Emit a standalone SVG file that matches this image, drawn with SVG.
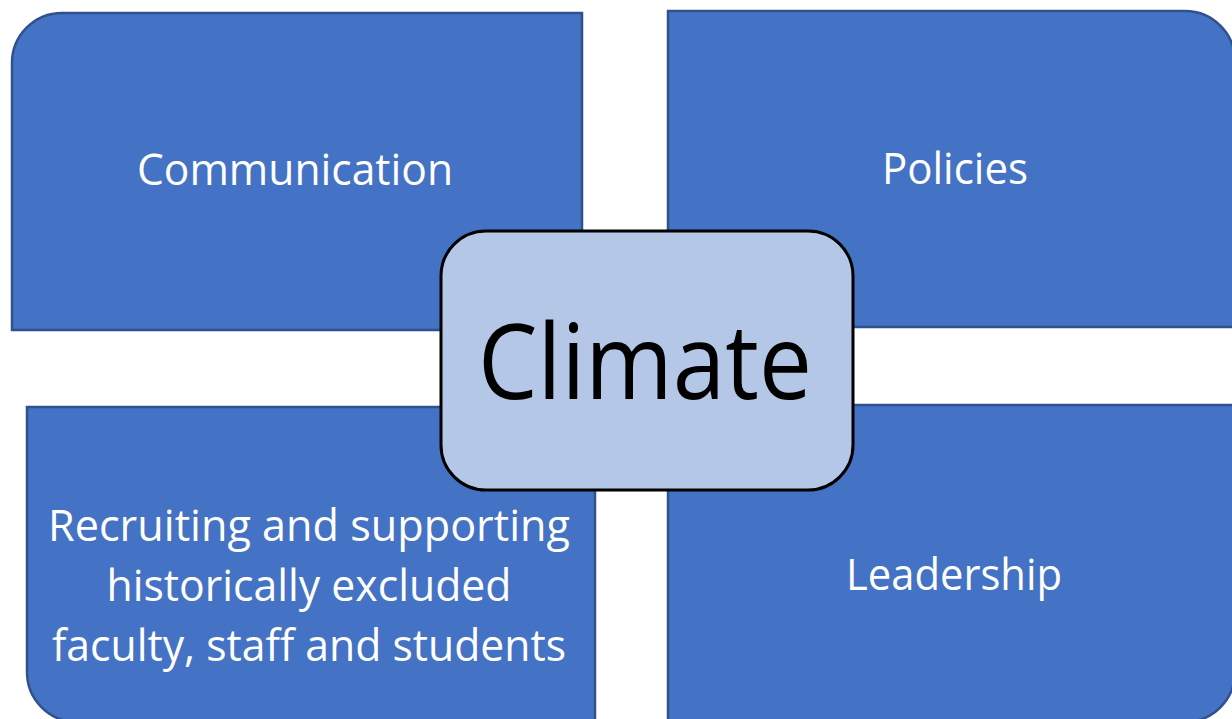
<svg xmlns="http://www.w3.org/2000/svg" width="1232" height="719" viewBox="0 0 1232 719">
<style>
.box{fill:#4472C4;stroke:#2F528F;stroke-width:2.5}
.lbl{fill:#FFFFFF;font-family:"Open Sans","Noto Sans","Liberation Sans",sans-serif;font-size:43px;text-anchor:middle}
.ctr{fill:#B4C7E7;stroke:#000000;stroke-width:3}
.ctxt{fill:#000000;font-family:"Open Sans","Noto Sans","Liberation Sans",sans-serif;font-size:104px;text-anchor:middle}
</style>
<rect width="1232" height="719" fill="#FFFFFF"/>
<g id="communication">
<path class="box" d="M12,330 L12,63 A50,50 0 0 1 62,13 L582,13 L582,330 Z"/>
<text class="lbl" x="295" y="185" textLength="316" lengthAdjust="spacingAndGlyphs">Communication</text>
</g>
<g id="policies">
<path class="box" d="M668,327 L668,11 L1185,11 A50,50 0 0 1 1235,61 L1235,327 Z"/>
<text class="lbl" x="955" y="184" textLength="146" lengthAdjust="spacingAndGlyphs">Policies</text>
</g>
<g id="recruiting">
<path class="box" d="M27,407 L595,407 L595,722 L77,722 A50,50 0 0 1 27,672 Z"/>
<text class="lbl" x="309" y="541" textLength="522" lengthAdjust="spacingAndGlyphs">Recruiting and supporting</text>
<text class="lbl" x="309" y="601" textLength="405" lengthAdjust="spacingAndGlyphs">historically excluded</text>
<text class="lbl" x="309" y="661" textLength="514" lengthAdjust="spacingAndGlyphs">faculty, staff and students</text>
</g>
<g id="leadership">
<path class="box" d="M668,405 L1235,405 L1235,672 A50,50 0 0 1 1185,722 L668,722 Z"/>
<text class="lbl" x="954" y="590" textLength="216" lengthAdjust="spacingAndGlyphs">Leadership</text>
</g>
<g id="connectors"></g>
<g id="climate">
<rect class="ctr" x="441" y="231" width="412" height="259" rx="45" ry="45"/>
<text class="ctxt" x="645" y="399" textLength="334" lengthAdjust="spacingAndGlyphs">Climate</text>
</g>
</svg>
